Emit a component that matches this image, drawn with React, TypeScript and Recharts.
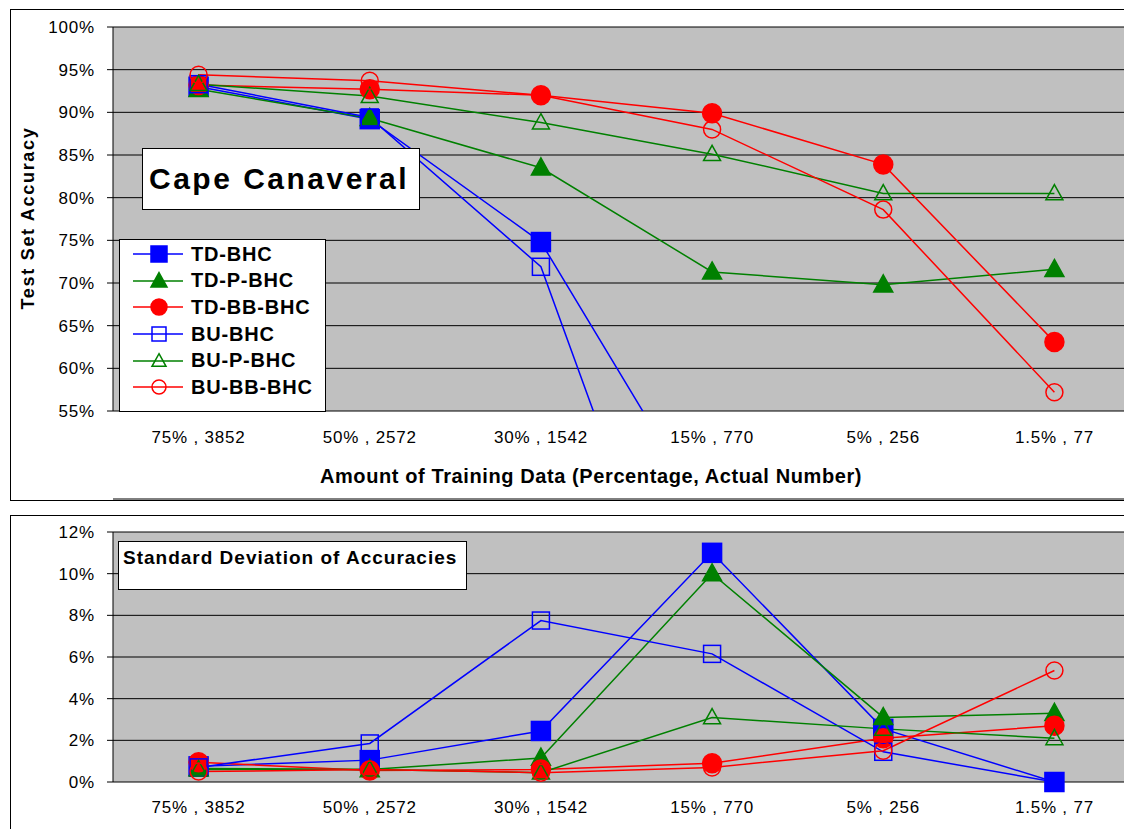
import * as React from 'react';
import { LineChart, Line, XAxis, YAxis, CartesianGrid } from 'recharts';

const categories = ['75% , 3852', '50% , 2572', '30% , 1542', '15% , 770', '5% , 256', '1.5% , 77'];

// test set accuracy (%)
const tdBhcAcc = [93.0, 89.2, 74.8, 41.5, 36, 30];
const tdPBhcAcc = [92.7, 89.3, 83.5, 71.3, 69.8, 71.6];
const tdBbBhcAcc = [93.2, 92.7, 92.0, 89.9, 83.9, 63.1];
const buBhcAcc = [93.3, 89.4, 71.9, 16.7, 15, 12];
const buPBhcAcc = [93.3, 91.9, 88.8, 85.1, 80.5, 80.5];
const buBbBhcAcc = [94.4, 93.7, 92.0, 88.0, 78.6, 57.2];

// standard deviation of accuracies (%)
const tdBhcSd = [0.75, 1.05, 2.45, 11.0, 2.55, 0];
const tdPBhcSd = [0.65, 0.6, 1.15, 10.0, 3.1, 3.3];
const tdBbBhcSd = [0.95, 0.55, 0.6, 0.9, 2.1, 2.7];
const buBhcSd = [0.7, 1.85, 7.75, 6.15, 1.45, 0];
const buPBhcSd = [0.6, 0.6, 0.45, 3.1, 2.55, 2.1];
const buBbBhcSd = [0.5, 0.6, 0.45, 0.7, 1.5, 5.35];

const accTicks = [55, 60, 65, 70, 75, 80, 85, 90, 95, 100];
const sdTicks = [0, 2, 4, 6, 8, 10, 12];
const edgeTicks = [0, 1, 2, 3, 4, 5, 6];

const BLUE = '#0000ff';
const GREEN = '#008000';
const RED = '#ff0000';
const FONT = '"Liberation Sans", Arial, sans-serif';

// plot is 1027px wide, 6 categories -> half a category of padding each side
const CAT_PAD = 1027 / 12;

const series = [
	{ key: 'tdBhc', name: 'TD-BHC', color: BLUE, shape: 'square', filled: true },
	{ key: 'tdPBhc', name: 'TD-P-BHC', color: GREEN, shape: 'triangle', filled: true },
	{ key: 'tdBbBhc', name: 'TD-BB-BHC', color: RED, shape: 'circle', filled: true },
	{ key: 'buBhc', name: 'BU-BHC', color: BLUE, shape: 'square', filled: false },
	{ key: 'buPBhc', name: 'BU-P-BHC', color: GREEN, shape: 'triangle', filled: false },
	{ key: 'buBbBhc', name: 'BU-BB-BHC', color: RED, shape: 'circle', filled: false }
];

const accData = categories.map((cat, i) => ({
	cat,
	tdBhc: tdBhcAcc[i],
	tdPBhc: tdPBhcAcc[i],
	tdBbBhc: tdBbBhcAcc[i],
	buBhc: buBhcAcc[i],
	buPBhc: buPBhcAcc[i],
	buBbBhc: buBbBhcAcc[i]
}));

const sdData = categories.map((cat, i) => ({
	cat,
	tdBhc: tdBhcSd[i],
	tdPBhc: tdPBhcSd[i],
	tdBbBhc: tdBbBhcSd[i],
	buBhc: buBhcSd[i],
	buPBhc: buPBhcSd[i],
	buBbBhc: buBbBhcSd[i]
}));

const Marker = ({ cx, cy, shape, filled, color, size }: any) => {
	const s = filled ? size : size - 2;
	const fill = filled ? color : 'none';
	if (shape === 'square') {
		return <rect x={cx - s / 2} y={cy - s / 2} width={s} height={s} fill={fill} stroke={color} strokeWidth={1.5} />;
	}
	if (shape === 'circle') {
		return <circle cx={cx} cy={cy} r={s / 2} fill={fill} stroke={color} strokeWidth={1.5} />;
	}
	const h = s * 0.9;
	return (
		<polygon
			points={`${cx},${cy - h * 0.58} ${cx + s / 2},${cy + h * 0.42} ${cx - s / 2},${cy + h * 0.42}`}
			fill={fill}
			stroke={color}
			strokeWidth={1.5}
		/>
	);
};

const dotFor = (s: any, size: number) => (props: any) => {
	const { cx, cy, index } = props;
	if (typeof cx !== 'number' || typeof cy !== 'number') return <g key={`${s.key}-${index}`} />;
	return (
		<g key={`${s.key}-${index}`}>
			<Marker cx={cx} cy={cy} shape={s.shape} filled={s.filled} color={s.color} size={size} />
		</g>
	);
};

const tickStyle = { fontSize: 17, fill: '#000', fontFamily: FONT, letterSpacing: 0.8 };

const renderLines = () =>
	series.map(s => (
		<Line
			key={s.key}
			type="linear"
			dataKey={s.key}
			name={s.name}
			stroke={s.color}
			strokeWidth={1.5}
			dot={dotFor(s, 19)}
			activeDot={false}
			isAnimationActive={false}
		/>
	));

const Panel = ({ data, domain, ticks, overflow, height, top, axisHeight, labelGap }: any) => (
	<LineChart width={1132} height={height} data={data} margin={{ top, right: 0, bottom: 0, left: 0 }}>
		<CartesianGrid vertical={false} stroke="#000" fill="#c0c0c0" />
		<XAxis
			xAxisId="edges"
			type="number"
			domain={[0, 6]}
			ticks={edgeTicks}
			allowDataOverflow
			tick={false}
			tickSize={5}
			tickLine={{ stroke: '#000' }}
			axisLine={{ stroke: '#000' }}
			height={1}
		/>
		<XAxis
			dataKey="cat"
			padding={{ left: CAT_PAD, right: CAT_PAD }}
			tickLine={false}
			axisLine={false}
			tickSize={0}
			tickMargin={labelGap}
			interval={0}
			tick={tickStyle}
			height={axisHeight}
		/>
		<YAxis
			type="number"
			domain={domain}
			ticks={ticks}
			allowDataOverflow={overflow}
			width={105}
			tickSize={6}
			tickMargin={12}
			tickFormatter={v => `${v}%`}
			tick={tickStyle}
			tickLine={{ stroke: '#000' }}
			axisLine={{ stroke: '#000' }}
		/>
		{renderLines()}
	</LineChart>
);

const LegendBox = () => (
	<div
		style={{
			position: 'absolute',
			left: 111,
			top: 231,
			width: 205,
			height: 170,
			border: '1px solid #000',
			background: '#fff',
			paddingTop: 1
		}}
	>
		{series.map(s => (
			<div key={s.key} style={{ display: 'flex', alignItems: 'center', height: 26.6 }}>
				<svg width={52} height={26} style={{ marginLeft: 13, flex: 'none' }}>
					<line x1={0} y1={13} x2={50} y2={13} stroke={s.color} strokeWidth={1.5} />
					<Marker cx={26} cy={13} shape={s.shape} filled={s.filled} color={s.color} size={16} />
				</svg>
				<span
					style={{
						marginLeft: 6,
						fontFamily: FONT,
						fontWeight: 'bold',
						fontSize: 20,
						letterSpacing: 0.8,
						color: '#000',
						whiteSpace: 'nowrap'
					}}
				>
					{s.name}
				</span>
			</div>
		))}
	</div>
);

export default function App() {
	return (
		<div style={{ position: 'relative', width: 1124, height: 821, overflow: 'hidden', fontFamily: FONT }}>
			<div style={{ position: 'absolute', left: 2, top: 1, width: 1200, height: 490, border: '1px solid #000' }} />
			<div style={{ position: 'absolute', left: 2, top: 507, width: 1200, height: 400, border: '1px solid #000' }} />

			<div style={{ position: 'absolute', left: 0, top: 0 }}>
				<Panel
					data={accData}
					domain={[55, 100]}
					ticks={accTicks}
					overflow
					height={492}
					top={19}
					axisHeight={88}
					labelGap={20}
				/>
			</div>
			<div style={{ position: 'absolute', left: 0, top: 507 }}>
				<Panel
					data={sdData}
					domain={[0, 12]}
					ticks={sdTicks}
					overflow={false}
					height={322}
					top={17}
					axisHeight={54}
					labelGap={19}
				/>
			</div>

			<div
				style={{
					position: 'absolute',
					left: 20,
					top: 210,
					transform: 'translate(-50%, -50%) rotate(-90deg)',
					fontWeight: 'bold',
					fontSize: 18,
					letterSpacing: 1.7,
					whiteSpace: 'nowrap'
				}}
			>
				Test Set Accuracy
			</div>
			<div
				style={{
					position: 'absolute',
					left: 583,
					top: 468,
					transform: 'translate(-50%, -50%)',
					fontWeight: 'bold',
					fontSize: 20,
					letterSpacing: 0.6,
					whiteSpace: 'nowrap'
				}}
			>
				Amount of Training Data (Percentage, Actual Number)
			</div>

			<div
				style={{
					position: 'absolute',
					left: 134,
					top: 140,
					width: 270,
					height: 60,
					border: '1px solid #000',
					background: '#fff',
					display: 'flex',
					alignItems: 'center',
					paddingLeft: 6,
					boxSizing: 'content-box',
					fontWeight: 'bold',
					fontSize: 30,
					letterSpacing: 2.5,
					whiteSpace: 'nowrap'
				}}
			>
				Cape Canaveral
			</div>

			<LegendBox />

			<div
				style={{
					position: 'absolute',
					left: 110,
					top: 533,
					width: 343,
					height: 42,
					border: '1px solid #000',
					background: '#fff',
					paddingLeft: 4,
					paddingTop: 5,
					boxSizing: 'content-box',
					fontWeight: 'bold',
					fontSize: 19,
					letterSpacing: 1,
					whiteSpace: 'nowrap'
				}}
			>
				Standard Deviation of Accuracies
			</div>
		</div>
	);
}
